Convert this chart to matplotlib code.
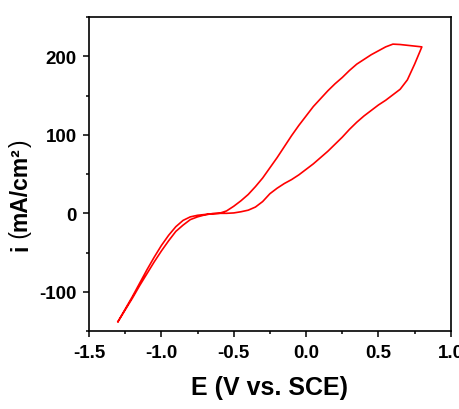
import numpy as np
import matplotlib
matplotlib.use("Agg")
import matplotlib.pyplot as plt
from matplotlib.ticker import MultipleLocator

plt.rcParams['axes.unicode_minus'] = False
plt.rcParams['font.family'] = ['Liberation Sans', 'DejaVu Sans']

# Anodic (forward) scan: -1.3 V -> 0.8 V
E_fwd = [-1.30, -1.25, -1.20, -1.15, -1.10, -1.05, -1.00, -0.95, -0.90, -0.85,
         -0.80, -0.75, -0.70, -0.65, -0.60, -0.55, -0.50, -0.45, -0.40, -0.35,
         -0.30, -0.25, -0.20, -0.15, -0.10, -0.05, 0.00, 0.05, 0.10, 0.15,
         0.20, 0.25, 0.30, 0.35, 0.40, 0.45, 0.50, 0.55, 0.60, 0.65,
         0.70, 0.75, 0.80]
i_fwd = [-138, -122, -106, -89, -72, -56, -41, -28, -17, -9,
         -4.5, -2.5, -1.5, -0.5, 0, 3, 9, 16, 24, 34,
         45, 58, 71, 85, 99, 112, 124, 136, 146, 156,
         165, 173, 182, 190, 196, 202, 207, 212, 215.5, 215,
         214, 213, 212]

# Cathodic (reverse) scan: 0.8 V -> -1.3 V
E_rev = [0.80, 0.75, 0.70, 0.65, 0.60, 0.55, 0.50, 0.45, 0.40, 0.35,
         0.30, 0.25, 0.20, 0.15, 0.10, 0.05, 0.00, -0.05, -0.10, -0.15,
         -0.20, -0.25, -0.30, -0.35, -0.40, -0.45, -0.50, -0.55, -0.60, -0.65,
         -0.70, -0.75, -0.80, -0.85, -0.90, -0.95, -1.00, -1.05, -1.10, -1.15,
         -1.20, -1.25, -1.30]
i_rev = [212, 190, 170, 158, 151, 144, 138, 131, 124, 116,
         107, 97, 88, 79, 71, 63, 56, 49, 43, 38,
         32, 25, 15, 8, 4, 2, 0.5, 0, 0, -0.5,
         -2, -4.5, -8, -15, -23, -35, -48, -62, -77, -92,
         -108, -123, -138]

xticks = [-1.5, -1.0, -0.5, 0.0, 0.5, 1.0]
xticklabels = ['-1.5', '-1.0', '-0.5', '0.0', '0.5', '1.0']
yticks = [-100, 0, 100, 200]
yticklabels = ['-100', '0', '100', '200']

xlabel_text = 'E (V vs. SCE)'
ylabel_parts = ['i', ' (', 'mA/cm²', ')']
ylabel_weights = ['bold', 'normal', 'bold', 'normal']

fig = plt.figure(figsize=(4.6, 4.1), dpi=100)
ax = fig.add_axes([0.1935, 0.190, 0.7865, 0.766])

E_all = np.concatenate([E_fwd, E_rev])
i_all = np.concatenate([i_fwd, i_rev])
ax.plot(E_all, i_all, color='#ff0000', lw=1.2, solid_joinstyle='round')

ax.set_xlim(-1.5, 1.0)
ax.set_ylim(-150, 250)
ax.set_xticks(xticks)
ax.set_xticklabels(xticklabels)
ax.set_yticks(yticks)
ax.set_yticklabels(yticklabels)
ax.xaxis.set_minor_locator(MultipleLocator(0.25))
ax.yaxis.set_minor_locator(MultipleLocator(50))

for s in ax.spines.values():
    s.set_linewidth(1.2)
ax.tick_params(which='major', direction='out', length=4, width=1.1, pad=5,
               labelsize=13.5, top=False, right=False)
ax.tick_params(which='minor', direction='out', length=2.2, width=1.1,
               top=False, right=False)
for lab in ax.get_xticklabels() + ax.get_yticklabels():
    lab.set_fontweight('bold')

ax.set_xlabel(xlabel_text, fontsize=18, fontweight='bold')
ax.xaxis.set_label_coords(0.5, -0.14)

# y label built from pieces (bold letters, thin parentheses), stacked upward
prev = fig.text(20.5 / 460, (410 - 251) / 410, ylabel_parts[0], rotation=90,
                fontsize=16.5, fontweight=ylabel_weights[0],
                ha='center', va='bottom')
for part, w in zip(ylabel_parts[1:], ylabel_weights[1:]):
    prev = ax.annotate(part, xy=(0.5, 1.0), xycoords=prev, rotation=90,
                       fontsize=16.5, fontweight=w, ha='center', va='bottom',
                       annotation_clip=False)

fig.savefig('out.png', dpi=100)
